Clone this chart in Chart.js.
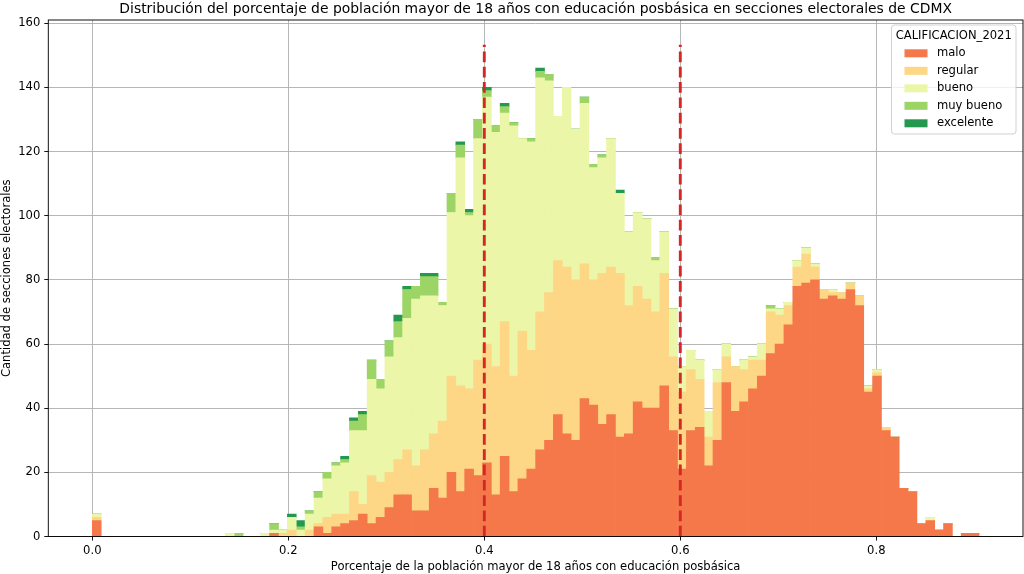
<!DOCTYPE html>
<html>
<head>
<meta charset="utf-8">
<script src="https://cdn.jsdelivr.net/npm/chart.js@4.4.1/dist/chart.umd.min.js"></script>
<style>
  html, body { margin: 0; padding: 0; background: #fff; }
  canvas { display: block; }
</style>
</head>
<body>
<canvas id="chart" width="1024" height="574"></canvas>
<script>
// histograma: 100 bins desde 0 hasta ~0.905
const binStart = 0;
const binWidth = 0.009048;

const calificaciones = ['malo', 'regular', 'bueno', 'muy bueno', 'excelente'];
const colores = ['#f47849', '#fdd686', '#ebf6a8', '#9cd465', '#22994f'];

// conteos por bin (10 bins por fila)
const malo = [
  5, 0, 0, 0, 0, 0, 0, 0, 0, 0,
  0, 0, 0, 0, 0, 0, 0, 0, 0, 0,
  1, 0, 0, 0, 0, 3, 1, 3, 4, 5,
  7, 4, 6, 9, 13, 13, 8, 8, 15, 12,
  20, 14, 21, 19, 23, 13, 25, 14, 18, 21,
  27, 30, 38, 32, 30, 43, 41, 35, 38, 31,
  32, 42, 40, 40, 47, 33, 21, 33, 34, 22,
  30, 48, 39, 42, 46, 50, 57, 60, 66, 78,
  79, 80, 74, 75, 74, 77, 72, 45, 50, 33,
  31, 15, 14, 4, 5, 2, 4, 0, 1, 1
];
const regular = [
  1, 0, 0, 0, 0, 0, 0, 0, 0, 0,
  0, 0, 0, 0, 0, 0, 0, 0, 0, 0,
  0, 1, 2, 0, 2, 1, 5, 4, 3, 9,
  3, 15, 11, 11, 11, 14, 14, 19, 17, 24,
  30, 33, 25, 36, 37, 40, 42, 36, 46, 37,
  43, 46, 48, 52, 50, 42, 39, 47, 46, 51,
  40, 36, 34, 30, 35, 23, 24, 19, 15, 9,
  18, 8, 14, 10, 9, 5, 13, 9, 6, 6,
  9, 4, 3, 1, 2, 2, 3, 1, 1, 1,
  0, 0, 0, 0, 0, 0, 0, 0, 0, 0
];
const bueno = [
  1, 0, 0, 0, 0, 0, 0, 0, 0, 0,
  0, 0, 0, 0, 0, 1, 0, 0, 0, 1,
  1, 1, 4, 2, 5, 8, 12, 15, 16, 19,
  23, 30, 29, 36, 38, 41, 52, 48, 43, 36,
  51, 71, 54, 69, 77, 73, 65, 78, 60, 65,
  73, 66, 45, 56, 47, 50, 35, 36, 40, 25,
  23, 23, 25, 16, 13, 15, 8, 6, 6, 8,
  4, 4, 0, 3, 1, 5, 1, 2, 1, 2,
  2, 1, 0, 1, 0, 0, 0, 1, 1, 0,
  0, 0, 0, 0, 1, 0, 0, 0, 0, 0
];
const muyBueno = [
  0, 0, 0, 0, 0, 0, 0, 0, 0, 0,
  0, 0, 0, 0, 0, 0, 1, 0, 0, 0,
  2, 0, 0, 1, 1, 2, 2, 1, 1, 3,
  5, 6, 3, 5, 5, 9, 4, 6, 6, 1,
  6, 4, 1, 6, 2, 2, 2, 1, 0, 1,
  2, 2, 0, 0, 0, 2, 1, 1, 0, 0,
  0, 0, 0, 1, 0, 0, 0, 0, 0, 0,
  0, 0, 0, 0, 0, 0, 1, 0, 0, 0,
  0, 0, 0, 0, 0, 0, 0, 0, 0, 0,
  0, 0, 0, 0, 0, 0, 0, 0, 0, 0
];
const excelente = [
  0, 0, 0, 0, 0, 0, 0, 0, 0, 0,
  0, 0, 0, 0, 0, 0, 0, 0, 0, 0,
  0, 0, 1, 2, 0, 0, 0, 0, 1, 1,
  1, 0, 0, 0, 2, 1, 0, 1, 1, 0,
  0, 1, 1, 0, 1, 0, 1, 0, 0, 0,
  1, 0, 0, 0, 0, 0, 0, 0, 0, 1,
  0, 0, 0, 0, 0, 0, 0, 0, 0, 0,
  0, 0, 0, 0, 0, 0, 0, 0, 0, 0,
  0, 0, 0, 0, 0, 0, 0, 0, 0, 0,
  0, 0, 0, 0, 0, 0, 0, 0, 0, 0
];

const xTicks = [0.0, 0.2, 0.4, 0.6, 0.8];
const yTicks = [0, 20, 40, 60, 80, 100, 120, 140, 160];
const refLines = [0.4, 0.6];
const refLineTop = 153.3;

const titulo = 'Distribución del porcentaje de población mayor de 18 años con educación posbásica en secciones electorales de CDMX';
const tituloX = 'Porcentaje de la población mayor de 18 años con educación posbásica';
const tituloY = 'Cantidad de secciones electorales';
const tituloLeyenda = 'CALIFICACION_2021';

const series = [malo, regular, bueno, muyBueno, excelente];
const binCenters = malo.map((_, k) => binStart + (k + 0.5) * binWidth);

const FONT = 'DejaVu Sans';
const FS = 11.57;
Chart.defaults.font.family = FONT;
Chart.defaults.color = '#000';

// título, líneas punteadas, marco y leyenda
const extras = {
  id: 'extras',
  afterDraw(chart) {
    const { ctx, chartArea: a, scales: { x, y } } = chart;
    ctx.save();

    // título
    ctx.font = '13.9px "' + FONT + '"';
    ctx.fillStyle = '#000';
    ctx.textAlign = 'center';
    ctx.textBaseline = 'alphabetic';
    ctx.fillText(titulo, (a.left + a.right) / 2, 13);

    // líneas de referencia
    ctx.strokeStyle = '#d62728';
    ctx.lineWidth = 2.9;
    ctx.setLineDash([10.7, 4.6]);
    refLines.forEach(v => {
      const px = x.getPixelForValue(v);
      ctx.beginPath();
      ctx.moveTo(px, y.getPixelForValue(0));
      ctx.lineTo(px, y.getPixelForValue(refLineTop));
      ctx.stroke();
    });
    ctx.setLineDash([]);

    // marco
    ctx.strokeStyle = '#000';
    ctx.lineWidth = 0.93;
    ctx.strokeRect(a.left, a.top, a.right - a.left, a.bottom - a.top);

    // leyenda
    const lx = 891.5, ly = 25, lw = 124.5, lh = 109;
    ctx.beginPath();
    if (ctx.roundRect) ctx.roundRect(lx, ly, lw, lh, 3);
    else ctx.rect(lx, ly, lw, lh);
    ctx.fillStyle = 'rgba(255,255,255,0.8)';
    ctx.fill();
    ctx.strokeStyle = 'rgba(204,204,204,0.9)';
    ctx.lineWidth = 1;
    ctx.stroke();

    ctx.font = FS + 'px "' + FONT + '"';
    ctx.fillStyle = '#000';
    ctx.textBaseline = 'middle';
    ctx.textAlign = 'center';
    ctx.fillText(tituloLeyenda, lx + lw / 2, 35.5);
    ctx.textAlign = 'left';
    chart.data.datasets.forEach((ds, i) => {
      const yc = 53.3 + i * 17.5;
      ctx.fillStyle = ds.backgroundColor;
      ctx.fillRect(904.5, yc - 4, 23, 8);
      ctx.fillStyle = '#000';
      ctx.fillText(ds.label, 937, yc);
    });
    ctx.restore();
  }
};

const gridStyle = {
  color: '#b0b0b0',
  lineWidth: 0.93,
  drawTicks: true,
  tickLength: 4,
  tickColor: '#000',
  tickWidth: 0.93,
  offset: false
};

new Chart(document.getElementById('chart'), {
  type: 'bar',
  data: {
    datasets: calificaciones.map((name, i) => ({
      label: name,
      data: series[i].map((v, k) => ({ x: binCenters[k], y: v })),
      backgroundColor: colores[i],
      borderWidth: 0,
      categoryPercentage: 1.0,
      barPercentage: 1.0
    }))
  },
  options: {
    responsive: false,
    animation: false,
    layout: { padding: { top: 20, right: 1, left: 0, bottom: 0 } },
    plugins: {
      legend: { display: false },
      tooltip: { enabled: false },
      title: { display: false }
    },
    scales: {
      x: {
        type: 'linear',
        min: -0.0449,
        max: 0.9497,
        offset: false,
        stacked: true,
        z: 1,
        grid: gridStyle,
        border: { display: false },
        afterBuildTicks: s => { s.ticks = xTicks.map(v => ({ value: v })); },
        afterFit: s => { s.height = 37.5; },
        ticks: {
          font: { size: FS },
          padding: 3.5,
          maxRotation: 0,
          callback: v => Number(v).toFixed(1)
        },
        title: {
          display: true,
          text: tituloX,
          font: { size: FS },
          padding: { top: 0, bottom: 0 }
        }
      },
      y: {
        type: 'linear',
        min: 0,
        max: 161,
        stacked: true,
        z: 1,
        grid: gridStyle,
        border: { display: false },
        afterBuildTicks: s => { s.ticks = yTicks.map(v => ({ value: v })); },
        afterFit: s => { s.width = 48.3; },
        ticks: {
          font: { size: FS },
          padding: 4
        },
        title: {
          display: true,
          text: tituloY,
          font: { size: FS },
          padding: { top: 0, bottom: 0 }
        }
      }
    }
  },
  plugins: [extras]
});
</script>
</body>
</html>
